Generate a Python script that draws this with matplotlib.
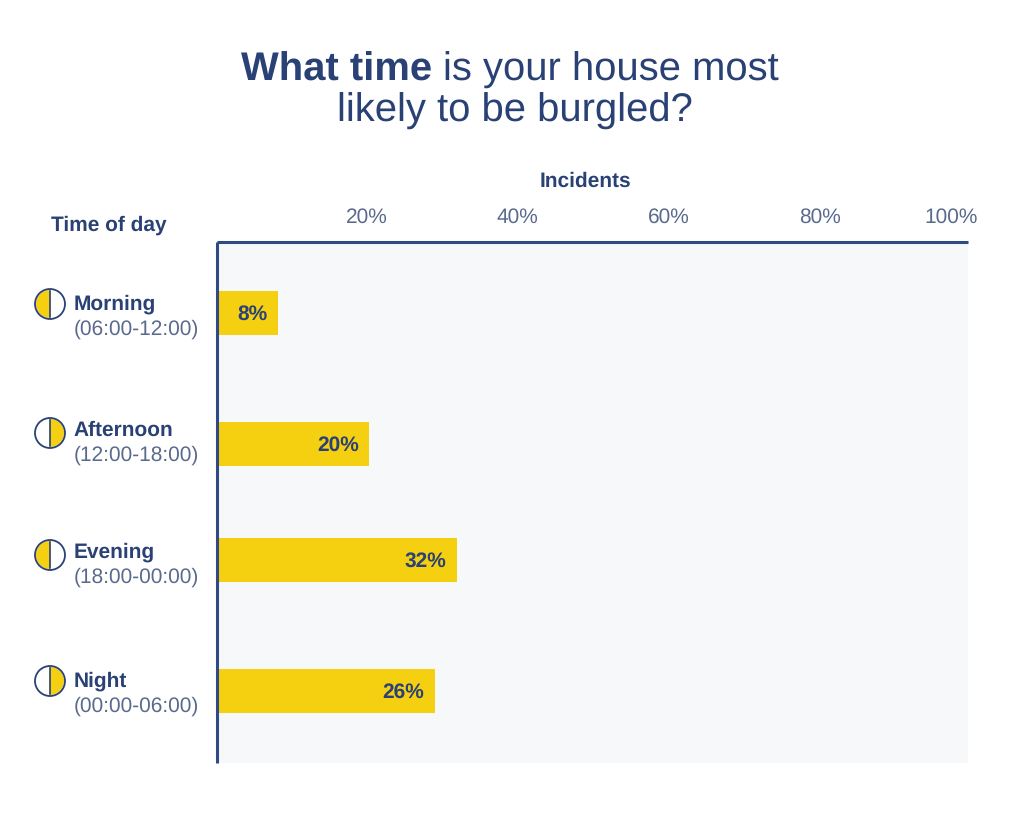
import matplotlib
matplotlib.use("Agg")
import matplotlib.pyplot as plt
from matplotlib.patches import Circle, Wedge

plt.rcParams['font.family'] = ['Liberation Sans', 'DejaVu Sans']
plt.rcParams['text.hinting'] = 'no_hinting'

# data
periods = ["Morning", "Afternoon", "Evening", "Night"]
hours = ["(06:00-12:00)", "(12:00-18:00)", "(18:00-00:00)", "(00:00-06:00)"]
bar_lengths = [8.1, 20.3, 32, 29]
bar_labels = ["8%", "20%", "32%", "26%"]
filled_side = ["left", "right", "left", "right"]
tick_labels = ["20%", "40%", "60%", "80%", "100%"]

# layout, in pixels of the 1024x827 picture
row_y = [313, 444, 560, 691]
icon_y = [304, 433, 555, 681]
name_y = [310, 436, 558, 687]
hours_y = [335, 461, 583, 712]
tick_pos = [20, 40, 60.3, 80.4, 97.9]

NAVY = "#2a4175"
LINE = "#2f4a85"
SOFT = "#5a6a8c"
YELLOW = "#f5d010"
BACK = "#f7f8fa"

W, H = 1024, 827
fig = plt.figure(figsize=(W / 100, H / 100), dpi=100, facecolor="white")

left, right, top, bottom = 217, 968, 242, 763
ax = fig.add_axes([left / W, 1 - bottom / H, (right - left) / W, (bottom - top) / H])
ax.set_facecolor(BACK)
ax.set_xlim(0, (right - left) / 7.5)
ax.set_ylim(bottom, top)

ax.barh(row_y, bar_lengths, height=44, color=YELLOW, zorder=2)
for y, length, label in zip(row_y, bar_lengths, bar_labels):
    ax.annotate(label, (length, y), xytext=(-7.5, -1), textcoords="offset points",
                ha="right", va="center", fontsize=15, fontweight="bold", color=NAVY, zorder=3)

ax.xaxis.tick_top()
ax.set_xticks(tick_pos)
ax.set_xticklabels(tick_labels, fontsize=15, color=SOFT)
ax.tick_params(axis="x", length=0, pad=11)
ax.set_yticks([])
for side in ["right", "bottom"]:
    ax.spines[side].set_visible(False)
for side in ["left", "top"]:
    ax.spines[side].set_color(LINE)
    ax.spines[side].set_linewidth(2.2)
    ax.spines[side].set_capstyle("butt")

# overlay in picture pixels for the title, headers and icons
ov = fig.add_axes([0, 0, 1, 1], facecolor="none")
ov.set_xlim(0, W)
ov.set_ylim(H, 0)
ov.axis("off")


def mixed_title(bold, light, x_mid, y, size):
    rend = fig.canvas.get_renderer()
    t1 = ov.text(0, y, bold, fontsize=size, fontweight="bold", color=NAVY, va="baseline")
    t2 = ov.text(0, y, light, fontsize=size, color=NAVY, va="baseline")
    w1 = t1.get_window_extent(rend).width
    w2 = t2.get_window_extent(rend).width
    space = size * 100 / 72 * 0.278
    x0 = x_mid - (w1 + space + w2) / 2
    t1.set_x(x0)
    t2.set_x(x0 + w1 + space)


mixed_title("What time", "is your house most", 510, 81, 28.8)
ov.text(515, 122, "likely to be burgled?", fontsize=28.8, color=NAVY, ha="center", va="baseline")

ov.text(585, 187, "Incidents", fontsize=15, fontweight="bold", color=NAVY, ha="center", va="baseline")
ov.text(51, 231, "Time of day", fontsize=15, fontweight="bold", color=NAVY, ha="left", va="baseline")

for i in range(len(periods)):
    cy = icon_y[i]
    if filled_side[i] == "left":
        ov.add_patch(Wedge((50, cy), 14, 90, 270, facecolor=YELLOW, edgecolor="none"))
    else:
        ov.add_patch(Wedge((50, cy), 14, 270, 90, facecolor=YELLOW, edgecolor="none"))
    ov.add_patch(Circle((50, cy), 15, facecolor="none", edgecolor=NAVY, linewidth=1.3))
    ov.plot([50, 50], [cy - 13, cy + 13], color=NAVY, linewidth=1.2)
    ov.text(73.5, name_y[i], periods[i], fontsize=15, fontweight="bold", color=NAVY, va="baseline")
    ov.text(74, hours_y[i], hours[i], fontsize=15, color=SOFT, va="baseline")

fig.savefig("out.png", dpi=100)
